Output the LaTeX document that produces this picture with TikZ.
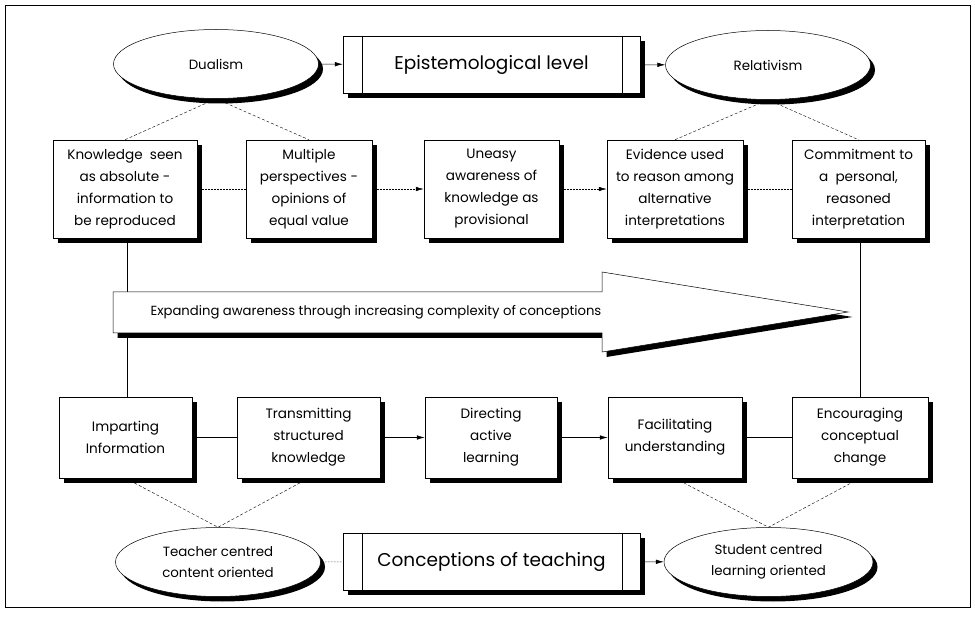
\documentclass[tikz,border=0pt]{standalone}
\usepackage{fontspec}
\setmainfont{Poppins}
\usetikzlibrary{arrows.meta,positioning,shapes.geometric,shadows}

\begin{document}
\begin{tikzpicture}[
x=1pt, y=-1pt,
font=\fontsize{13.6}{22}\selectfont,
shade/.style={drop shadow={shadow xshift=4.5pt, shadow yshift=-5pt, fill=black, opacity=1}},
box/.style={draw, line width=0.5pt, fill=white, shade, align=center, inner sep=0pt},
oval/.style={draw, ellipse, line width=0.5pt, fill=white, shade, align=center, inner sep=0pt, minimum width=205pt, minimum height=69pt, font=\fontsize{13.4}{21}\selectfont},
level/.style={draw, line width=0.5pt, fill=white, shade, minimum width=297pt, minimum height=57pt, inner sep=0pt, font=\fontsize{18.5}{22}\selectfont},
link/.style={line width=0.5pt, densely dotted},
flow/.style={line width=0.5pt, -{Latex[length=8pt, width=4.5pt]}},
tie/.style={line width=0.4pt, dash pattern=on 3pt off 2pt},
>=Latex
]
\useasboundingbox (0,0) rectangle (975,617);
\draw[line width=0.6pt] (5,5) rectangle (970,607);

% epistemological level
\node[oval] (dual) at (216,64) {Dualism};
\node[level] (epi) at (491.5,64.5) {Epistemological level};
\node[oval] (rel) at (768,65) {Relativism};
\draw[line width=0.5pt] ([xshift=19pt]epi.north west) -- ([xshift=19pt]epi.south west);
\draw[line width=0.5pt] ([xshift=-18pt]epi.north east) -- ([xshift=-18pt]epi.south east);

\node[box, minimum width=144pt, minimum height=98pt] (k1) at (125,189) {Knowledge\ \ seen\\as absolute -\\information to\\be reproduced};
\node[box, minimum width=126pt, minimum height=98pt] (k2) at (309,189) {Multiple\\perspectives -\\opinions of\\equal value};
\node[box, minimum width=135pt, minimum height=98pt] (k3) at (491.5,189) {Uneasy\\awareness of\\knowledge as\\provisional};
\node[box, minimum width=136pt, minimum height=98pt] (k4) at (675,189) {Evidence used\\to reason among\\alternative\\interpretations};
\node[box, minimum width=133pt, minimum height=98pt] (k5) at (858.5,189) {Commitment to\\a\ \ personal,\\reasoned\\interpretation};

% conceptions of teaching
\node[box, minimum width=133pt, minimum height=81pt] (t1) at (125.5,437.5) {Imparting\\Information};
\node[box, minimum width=143pt, minimum height=81pt] (t2) at (308.5,437.5) {Transmitting\\structured\\knowledge};
\node[box, minimum width=132pt, minimum height=81pt] (t3) at (491,437.5) {Directing\\active\\learning};
\node[box, minimum width=134pt, minimum height=81pt] (t4) at (675,437.5) {Facilitating\\understanding};
\node[box, minimum width=136pt, minimum height=81pt] (t5) at (860,437.5) {Encouraging\\conceptual\\change};

\node[oval] (teach) at (218,562) {Teacher centred\\content oriented};
\node[level] (conc) at (491.5,561.5) {Conceptions of teaching};
\node[oval, minimum width=209pt] (stud) at (768.5,562) {Student centred\\learning oriented};
\draw[line width=0.5pt] ([xshift=19pt]conc.north west) -- ([xshift=19pt]conc.south west);
\draw[line width=0.5pt] ([xshift=-18pt]conc.north east) -- ([xshift=-18pt]conc.south east);

% connectors
\draw[flow] (dual) -- (epi);
\draw[flow] (epi) -- (rel);
\draw[link] (k1) -- (k2);
\draw[flow, densely dotted] (k2) -- (k3);
\draw[flow, densely dotted] (k3) -- (k4);
\draw[link] (k4) -- (k5);
\draw[line width=0.5pt] (t1) -- (t2);
\draw[flow] (t2) -- (t3);
\draw[flow] (t3) -- (t4);
\draw[line width=0.5pt] (t4) -- (t5);
\draw[link] (teach) -- (conc);
\draw[flow] (conc) -- (stud);

\draw[tie] (k1.north) -- (dual.south) -- (k2.north);
\draw[tie] (k4.north) -- (rel.south) -- (k5.north);
\draw[tie] (t1.south) -- (teach.north) -- (t2.south);
\draw[tie] (t4.south) -- (stud.north) -- (t5.south);

\draw[line width=0.8pt] ([xshift=2pt]k1.south) -- ([xshift=2pt]k1.south |- t1.north);
\draw[line width=0.8pt] ([xshift=1.5pt]k5.south) -- ([xshift=1.5pt]k5.south |- t5.north);

% expanding awareness arrow
\fill[black] (117.5,297) -- (606.5,297) -- (606.5,277) -- (852.5,317) -- (606.5,357) -- (606.5,338) -- (117.5,338) -- cycle;
\draw[line width=0.5pt, fill=white] (113,292) -- (602,292) -- (602,272) -- (848,312) -- (602,352) -- (602,333) -- (113,333) -- cycle;
\node[anchor=west, font=\fontsize{13.2}{16}\selectfont] (grow) at (147,312) {Expanding awareness through increasing complexity of conceptions};
\end{tikzpicture}
\end{document}
